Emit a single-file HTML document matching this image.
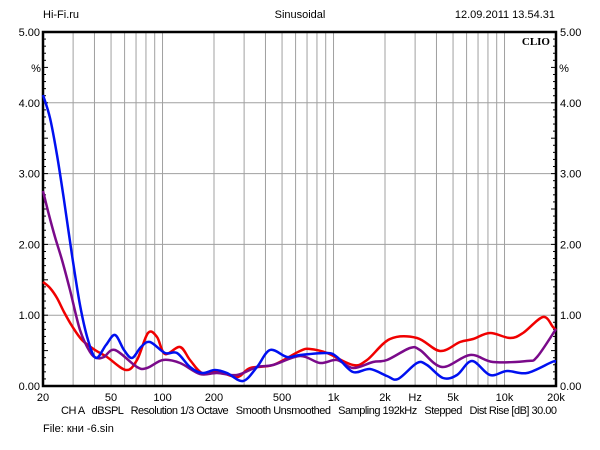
<!DOCTYPE html>
<html><head><meta charset="utf-8"><style>
body{margin:0;background:#fff;width:600px;height:450px;overflow:hidden}
svg{display:block}
text{font-family:"Liberation Sans",sans-serif;font-size:11px;fill:#000;white-space:pre}
</style></head><body>
<svg id="s" width="600" height="450" xmlns="http://www.w3.org/2000/svg">
<g id="grid" stroke="#a0a0a0" stroke-width="1"></g>
<g id="ticks" stroke="#000" stroke-width="1"></g>
<rect x="43" y="32" width="513" height="354" fill="none" stroke="#000" stroke-width="2.5"/>
<text x="43" y="18">Hi-Fi.ru</text>
<text x="300" y="18" text-anchor="middle">Sinusoidal</text>
<text x="555" y="18" text-anchor="end">12.09.2011 13.54.31</text>
<text x="550" y="45" text-anchor="end" style="font-family:'Liberation Serif',serif;font-weight:bold;font-size:11px">CLIO</text>
<g id="lbl"></g>
<text x="61" y="414" textLength="496" lengthAdjust="spacing">CH A   dBSPL   Resolution 1/3 Octave   Smooth Unsmoothed   Sampling 192kHz   Stepped   Dist Rise [dB] 30.00</text>
<text x="43" y="432">File: кни -6.sin</text>
<g id="curves" fill="none" stroke-width="2.5" stroke-linejoin="round"></g>
</svg>
<script>
var NS="http://www.w3.org/2000/svg";
function el(p,t,a,txt){var e=document.createElementNS(NS,t);for(var k in a)e.setAttribute(k,a[k]);if(txt!=null)e.textContent=txt;document.getElementById(p).appendChild(e);return e;}
function fx(f){return 43+171*Math.log10(f/20);}
var fs=[30,40,50,60,70,80,90,100,200,300,400,500,600,700,800,900,1000,2000,3000,4000,5000,6000,7000,8000,9000,10000];
fs.forEach(function(f){var x=fx(f);el("grid","line",{x1:x,y1:32,x2:x,y2:386});});
for(var i=1;i<5;i++){var y=386-i*70.8;el("grid","line",{x1:43,y1:y,x2:556,y2:y});}
for(var i=1;i<50;i++){var y=386-i*7.08;var l=(i%5==0)?5:3;el("ticks","line",{x1:43,y1:y,x2:43+l,y2:y});el("ticks","line",{x1:556,y1:y,x2:556-l,y2:y});}
for(var i=0;i<=5;i++){var y=386-i*70.8+4;el("lbl","text",{x:40,y:y,"text-anchor":"end"},i+".00");el("lbl","text",{x:560,y:y},i+".00");}
el("lbl","text",{x:36,y:72,"text-anchor":"middle"},"%");el("lbl","text",{x:564,y:72,"text-anchor":"middle"},"%");
[[20,"20"],[50,"50"],[100,"100"],[200,"200"],[500,"500"],[1000,"1k"],[2000,"2k"],[3000,"Hz"],[5000,"5k"],[10000,"10k"],[20000,"20k"]].forEach(function(a){el("lbl","text",{x:fx(a[0]),y:401,"text-anchor":"middle"},a[1]);});
function path(p){var d="M"+p[0][0]+","+p[0][1];for(var i=0;i<p.length-1;i++){var p0=p[i-1]||p[i],p1=p[i],p2=p[i+1],p3=p[i+2]||p2;
d+=" C"+(p1[0]+(p2[0]-p0[0])/6)+","+(p1[1]+(p2[1]-p0[1])/6)+" "+(p2[0]-(p3[0]-p1[0])/6)+","+(p2[1]-(p3[1]-p1[1])/6)+" "+p2[0]+","+p2[1];}return d;}
var red=[[43,282],[50,288],[57,298],[64,312],[72,326],[82,340],[95,350],[107,357],[126,370],[137,360],[148,333],[157,337],[165,354],[180,347],[190,360],[202,373],[217,371],[237,377],[250,368],[273,365],[300,351],[310,349],[327,353],[353,365],[367,360],[390,339],[417,338],[440,351],[460,342],[473,339],[490,333],[510,338],[523,333],[543,317],[553,327],[556,330]];
var purple=[[43,191],[49,215],[55,237],[62,260],[70,290],[80,330],[90,352],[97,358],[104,357],[115,350],[137,367],[147,368],[163,360],[180,363],[200,374],[217,373],[237,375],[257,367],[273,365],[300,356],[320,363],[337,360],[353,368],[373,362],[387,360],[410,348],[420,350],[442,367],[470,355],[493,362],[527,361],[537,357],[556,329]];
var blue=[[43,95],[50,118],[57,155],[64,200],[72,255],[80,305],[88,340],[96,358],[106,345],[115,335],[124,350],[132,358],[141,347],[150,342],[165,353],[177,353],[190,367],[202,373],[215,370],[227,373],[243,381],[257,367],[270,350],[287,357],[300,355],[327,353],[337,357],[353,372],[370,369],[387,376],[398,379],[417,363],[427,365],[443,378],[457,375],[472,361],[490,375],[507,371],[527,373],[552,362],[556,362]];
el("curves","path",{d:path(red),stroke:"#f00000"});
el("curves","path",{d:path(purple),stroke:"#7a0a8a"});
el("curves","path",{d:path(blue),stroke:"#0010f0"});
</script>
</body></html>
